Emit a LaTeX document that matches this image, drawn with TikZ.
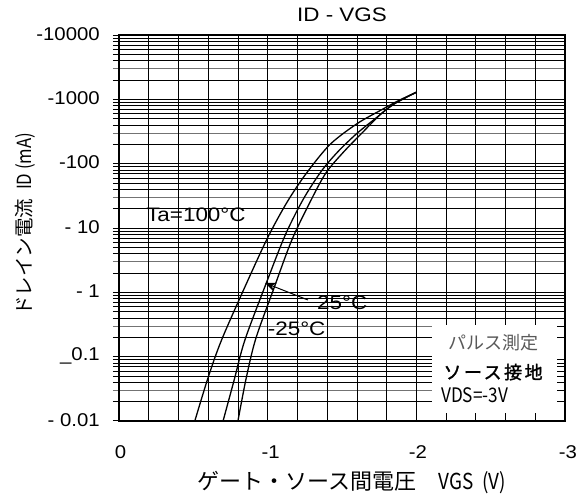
\documentclass[tikz,border=0pt]{standalone}
\usepackage{fontspec}
\usetikzlibrary{arrows.meta}
\setmainfont{Liberation Sans}
\newfontfamily\widesans{Liberation Sans}[FakeStretch=1.1]
\newfontfamily\tempsans{Liberation Sans}[FakeStretch=1.15]
\newfontfamily\jpfont{Noto Sans CJK JP}
\newfontfamily\jpnarrow{Noto Sans CJK JP}[FakeStretch=0.86]
\newfontfamily\jpbold{Noto Sans CJK JP}[FakeBold=1.6,LetterSpace=14]

\begin{document}
\begin{tikzpicture}[x=148.67pt,y=64.33pt,
  gridline/.style={line width=0.7pt},
  gridgray/.style={line width=0.9pt,color=black!55},
  decade/.style={line width=1pt},
  frame/.style={line width=2.6pt},
  curve/.style={line width=1.3pt},
  ticklbl/.style={font=\widesans\fontsize{18.5}{19}\selectfont,inner sep=0pt},
  temp/.style={font=\tempsans\fontsize{19.5}{20}\selectfont,inner sep=0pt,anchor=west}]
\useasboundingbox (-119pt,-77pt) rectangle ++(587pt,498pt);

% horizontal grid, 2..9 in every decade
\foreach \d in {0,...,5} {
  \foreach \m in {2,4,5,6,7,8,9}
    \draw[gridline] ([xshift=-6pt]0,{\d+ln(\m)/ln(10)}) -- (3,{\d+ln(\m)/ln(10)});
  \draw[gridgray] ([xshift=-6pt]0,{\d+ln(3)/ln(10)}) -- (3,{\d+ln(3)/ln(10)});
}
\foreach \d in {1,...,5}
  \draw[decade] ([xshift=-6pt]0,\d) -- (3,\d);
\draw[decade] ([xshift=-6pt]0,0) -- (0,0);
\draw[decade] ([xshift=-6pt]0,6) -- (0,6);
% vertical grid
\foreach \v in {1,...,14}
  \draw[gridline] (\v*0.2,0) -- (\v*0.2,6);

% legend field
\fill[white] (2.105,0) rectangle (3,1.49);
\foreach \d in {0,1} {
  \foreach \m in {2,...,9}
    \draw[gridline] (3,{\d+ln(\m)/ln(10)}) -- ++(-8pt,0);
}
\foreach \v in {11,...,14}
  \draw[gridline] (\v*0.2,0) -- ++(0,8pt);

\draw[frame] (0,0) rectangle (3,6);

% curves
\draw[curve] plot[smooth,tension=0.5] coordinates {(0.51,0) (0.60,0.68) (0.69,1.26) (0.85,2.1) (1.0,2.85) (1.13,3.4) (1.26,3.85) (1.42,4.3) (1.6,4.62) (1.76,4.83) (1.88,4.98) (2.0,5.11)};
\draw[curve] plot[smooth,tension=0.5] coordinates {(0.70,0) (0.775,0.64) (0.847,1.26) (1.0,2.2) (1.12,2.9) (1.24,3.45) (1.36,3.88) (1.47,4.18) (1.6,4.47) (1.74,4.73) (1.85,4.93) (2.0,5.11)};
\draw[curve] plot[smooth,tension=0.5] coordinates {(0.80,0) (0.855,0.66) (0.92,1.28) (1.04,2.05) (1.16,2.8) (1.28,3.38) (1.39,3.85) (1.51,4.18) (1.64,4.49) (1.76,4.77) (1.86,4.94) (2.0,5.11)};

% tick labels
\node[ticklbl,anchor=east] (y6) at (-0.128,6.02) {-10000};
\node[ticklbl,anchor=east] (y5) at (-0.128,5.02) {-1000};
\node[ticklbl,anchor=east] (y4) at (-0.128,4.02) {-100};
\node[ticklbl,anchor=east] (y3) at (-0.128,3.02) {- 10};
\node[ticklbl,anchor=east] (y2) at (-0.128,2.02) {- 1};
\node[ticklbl,anchor=east] (y1) at (-0.128,1.02) {\_0.1};
\node[ticklbl,anchor=east] (y0) at (-0.128,0.02) {- 0.01};
\node[ticklbl] (x0) at (0.01,-0.48) {0};
\node[ticklbl] (x1) at (1.02,-0.48) {-1};
\node[ticklbl] (x2) at (2.01,-0.48) {-2};
\node[ticklbl] (x3) at (3.02,-0.48) {-3};

\node[font=\tempsans\fontsize{19.5}{20}\selectfont] (title) at (1.5,6.31) {ID - VGS};
\node[rotate=90,font=\fontsize{19.5}{20}\selectfont] (ylabel) at (-0.632,3.06)
  {\jpfont ドレイン電流\ \ \jpnarrow ID\ (mA)};
\node[font=\fontsize{22}{22}\selectfont] (xlabel) at (1.567,-0.964)
  {\jpfont ゲート・ソース間電圧\quad\jpnarrow VGS\ \ (V)};

% temperatures
\node[temp] (t100) at (0.182,3.2) {Ta=100°C};
\node[temp] (t25) at (1.332,1.834) {25°C};
\node[temp] (tm25) at (1.0,1.43) {-25°C};
\coordinate (on25) at (0.982,2.145);
\draw[line width=1pt,-{Stealth[length=11pt,width=9pt]}] ([xshift=-9pt,yshift=3pt]t25.west) -- (on25);

% conditions
\node[font=\fontsize{18}{18}\selectfont,text=black!65] (pulse) at (2.516,1.21) {\jpfont パルス測定};
\node[font=\fontsize{18}{18}\selectfont] (ground) at (2.516,0.76) {\jpbold ソース接地};
\node[font=\fontsize{20}{20}\selectfont,anchor=west,inner sep=0pt] (vds) at (2.166,0.40) {\jpnarrow VDS=-3V};
\end{tikzpicture}
\end{document}
